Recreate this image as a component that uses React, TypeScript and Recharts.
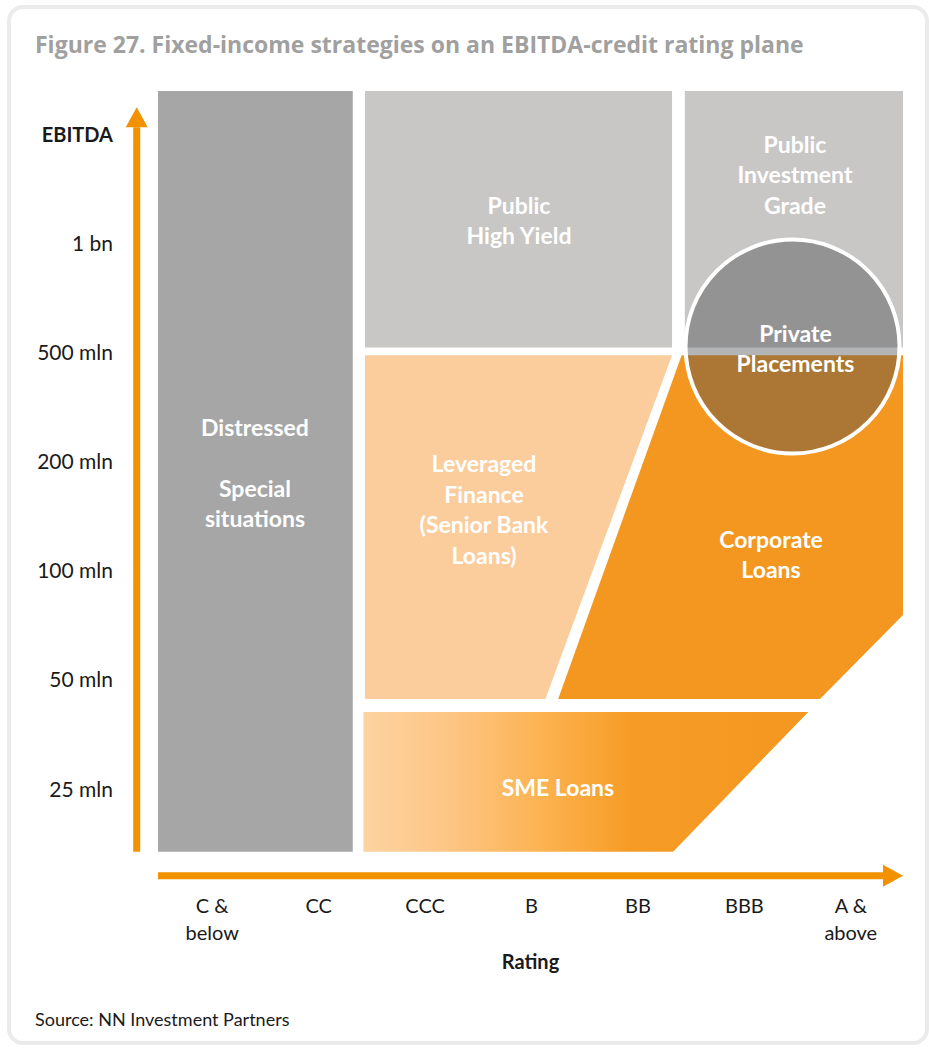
import React from 'react';
import {
  ComposedChart,
  XAxis,
  YAxis,
  Area,
  ReferenceArea,
  ReferenceDot,
  ReferenceLine,
  Label,
} from 'recharts';

// ---- axes (rating index on x, EBITDA level index on y) ----
const ratingTicks = [0, 1, 2, 3, 4, 5, 6];
const ratingLabels = [['C &', 'below'], ['CC'], ['CCC'], ['B'], ['BB'], ['BBB'], ['A &', 'above']];
const ebitdaTicks = [0, 1, 2, 3, 4, 5, 6];
const ebitdaLabels = ['25 mln', '50 mln', '100 mln', '200 mln', '500 mln', '1 bn', 'EBITDA'];

// ---- rectangular strategy zones: [x1, x2, y1, y2] in axis units ----
const distressedZone = [-0.5, 1.33, -0.57, 6.4];
const publicHighYieldZone = [1.445, 4.33, 4.05, 6.4];
const publicInvestmentGradeZone = [4.45, 6.5, 4.05, 6.4];

// ---- polygon zones as range areas: x with [low, high] EBITDA level ----
const leveragedFinance = [
  { x: 1.445, r: [0.83, 3.98] },
  { x: 3.14, r: [0.83, 3.98] },
  { x: 4.33, r: [3.98, 3.98] },
];
const corporateLoans = [
  { x: 3.26, r: [0.83, 0.83] },
  { x: 4.42, r: [0.83, 3.98] },
  { x: 5.72, r: [0.83, 3.98] },
  { x: 6.5, r: [1.6, 3.98] },
];
const smeLoans = [
  { x: 1.43, r: [-0.57, 0.71] },
  { x: 4.34, r: [-0.57, 0.71] },
  { x: 5.61, r: [0.71, 0.71] },
];

// ---- private placements circle centre ----
const privatePlacementsCentre = { x: 5.462, y: 4.059 };

// ---- zone labels ----
const zoneLabels = [
  { x: 0.411, y: 2.896, lines: ['Distressed', '', 'Special', 'situations'] },
  { x: 2.892, y: 5.209, lines: ['Public', 'High Yield'] },
  { x: 5.485, y: 5.63, lines: ['Public', 'Investment', 'Grade'] },
  { x: 5.49, y: 4.036, lines: ['Private', 'Placements'] },
  { x: 2.563, y: 2.561, lines: ['Leveraged', 'Finance', '(Senior Bank', 'Loans)'] },
  { x: 5.26, y: 2.149, lines: ['Corporate', 'Loans'] },
  { x: 3.258, y: 0.014, lines: ['SME Loans'] },
];

// ---- axis arrows (axis units) ----
const ratingArrow = [{ x: -0.5, y: -0.79 }, { x: 6.5, y: -0.79 }];
const ebitdaArrow = [{ x: -0.7, y: -0.57 }, { x: -0.7, y: 6.25 }];

const FONT = 'Lato, "Open Sans", sans-serif';
const ORANGE = '#f39200';

const RatingTick = (props: any) => {
  const { x, y, payload } = props;
  const idx = ratingTicks.indexOf(payload.value);
  const lines = ratingLabels[idx] || [];
  return (
    <g>
      {lines.map((t, i) => (
        <text key={i} x={x + 1} y={y + 58 + i * 27} textAnchor="middle" fontSize={20} fill="#1a1a1a" fontFamily={FONT}>
          {t}
        </text>
      ))}
    </g>
  );
};

const EbitdaTick = (props: any) => {
  const { x, y, payload } = props;
  const idx = ebitdaTicks.indexOf(payload.value);
  return (
    <text x={x} y={y} dy={7} textAnchor="end" fontSize={idx === 6 ? 20 : 21} fill="#1a1a1a" fontFamily={FONT} fontWeight={idx === 6 ? 700 : 400}>
      {ebitdaLabels[idx]}
    </text>
  );
};

const ArrowShape = (props: any) => {
  const { x1, y1, x2, y2 } = props;
  const dx = x2 - x1;
  const dy = y2 - y1;
  const len = Math.hypot(dx, dy) || 1;
  const ux = dx / len;
  const uy = dy / len;
  const head = 20;
  const half = 11;
  const bx = x2 - ux * head;
  const by = y2 - uy * head;
  const px = -uy;
  const py = ux;
  return (
    <g>
      <line x1={x1} y1={y1} x2={bx} y2={by} stroke={ORANGE} strokeWidth={7} />
      <polygon
        points={`${x2},${y2} ${bx + px * half},${by + py * half} ${bx - px * half},${by - py * half}`}
        fill={ORANGE}
      />
    </g>
  );
};

const ZoneLabel = ({ cx, cy, lines }: { cx: number; cy: number; lines: string[] }) => {
  const lh = 30.5;
  const start = cy - ((lines.length - 1) * lh) / 2;
  return (
    <text textAnchor="middle" fill="#ffffff" fontWeight={700} fontSize={23} fontFamily={FONT}>
      {lines.map((l, i) => (
        <tspan key={i} x={cx} y={start + i * lh} dy="0.35em">
          {l}
        </tspan>
      ))}
    </text>
  );
};

export default function App() {
  return (
    <div style={{ position: 'absolute', left: 0, top: 0, width: 929, height: 1048, fontFamily: FONT, background: '#fff' }}>
      <div
        style={{
          position: 'absolute',
          left: 7,
          top: 5,
          width: 922,
          height: 1040,
          border: '4px solid #ebebeb',
          borderRadius: 16,
          boxSizing: 'border-box',
        }}
      />
      <div
        style={{
          position: 'absolute',
          left: 35,
          top: 33,
          fontSize: 23,
          lineHeight: '23px',
          fontWeight: 700,
          fontFamily: '"Open Sans", Lato, sans-serif',
          color: '#a0a0a0',
          whiteSpace: 'nowrap',
        }}
      >
        Figure 27. Fixed-income strategies on an EBITDA-credit rating plane
      </div>
      <div
        style={{
          position: 'absolute',
          left: 35,
          top: 1010,
          fontSize: 18,
          lineHeight: '18px',
          color: '#1a1a1a',
          whiteSpace: 'nowrap',
        }}
      >
        Source: NN Investment Partners
      </div>
      <div style={{ position: 'absolute', left: 0, top: 0 }}>
        <ComposedChart width={929} height={1048} margin={{ top: 91, right: 26, bottom: 73, left: 0 }}>
          <defs>
            <linearGradient id="smeGrad" x1="0" y1="0" x2="1" y2="0">
              <stop offset="0" stopColor="#fdd3a0" />
              <stop offset="0.2" stopColor="#fdc584" />
              <stop offset="0.42" stopColor="#fcb14c" />
              <stop offset="0.6" stopColor="#f69c26" />
              <stop offset="1" stopColor="#f39720" />
            </linearGradient>
          </defs>
          <XAxis
            type="number"
            dataKey="x"
            domain={[-0.5, 6.5]}
            ticks={ratingTicks}
            allowDataOverflow
            axisLine={false}
            tickLine={false}
            tickSize={0}
            tickMargin={0}
            height={120}
            tick={<RatingTick />}
            interval={0}
          >
            <Label value="Rating" position="insideBottom" offset={6} fontSize={20} fontWeight={700} fill="#1a1a1a" fontFamily={FONT} />
          </XAxis>
          <YAxis
            type="number"
            domain={[-0.6, 6.4]}
            ticks={ebitdaTicks}
            allowDataOverflow
            axisLine={false}
            tickLine={false}
            tickSize={45}
            tickMargin={0}
            width={158}
            tick={<EbitdaTick />}
            interval={0}
          />
          <ReferenceArea
            x1={distressedZone[0]}
            x2={distressedZone[1]}
            y1={distressedZone[2]}
            y2={distressedZone[3]}
            fill="#a6a6a6"
            fillOpacity={1}
            stroke="none"
          />
          <ReferenceArea
            x1={publicHighYieldZone[0]}
            x2={publicHighYieldZone[1]}
            y1={publicHighYieldZone[2]}
            y2={publicHighYieldZone[3]}
            fill="#c8c7c5"
            fillOpacity={1}
            stroke="none"
          />
          <ReferenceArea
            x1={publicInvestmentGradeZone[0]}
            x2={publicInvestmentGradeZone[1]}
            y1={publicInvestmentGradeZone[2]}
            y2={publicInvestmentGradeZone[3]}
            fill="#c8c7c5"
            fillOpacity={1}
            stroke="none"
          />
          <Area
            data={leveragedFinance}
            dataKey="r"
            type="linear"
            stroke="none"
            fill="#fbcd9c"
            fillOpacity={1}
            dot={false}
            activeDot={false}
            isAnimationActive={false}
          />
          <Area
            data={corporateLoans}
            dataKey="r"
            type="linear"
            stroke="none"
            fill="#f39720"
            fillOpacity={1}
            dot={false}
            activeDot={false}
            isAnimationActive={false}
          />
          <Area
            data={smeLoans}
            dataKey="r"
            type="linear"
            stroke="none"
            fill="url(#smeGrad)"
            fillOpacity={1}
            dot={false}
            activeDot={false}
            isAnimationActive={false}
          />
          <ReferenceDot
            x={privatePlacementsCentre.x}
            y={privatePlacementsCentre.y}
            r={107}
            shape={(p: any) => (
              <circle cx={p.cx} cy={p.cy} r={107} fill="#4a4c52" fillOpacity={0.42} stroke="#ffffff" strokeWidth={4} />
            )}
          />
          {zoneLabels.map((z, i) => (
            <ReferenceDot
              key={i}
              x={z.x}
              y={z.y}
              r={1}
              shape={(p: any) => <ZoneLabel cx={p.cx} cy={p.cy} lines={z.lines} />}
            />
          ))}
          <ReferenceLine segment={ratingArrow} ifOverflow="visible" shape={(p: any) => <ArrowShape {...p} />} />
          <ReferenceLine segment={ebitdaArrow} ifOverflow="visible" shape={(p: any) => <ArrowShape {...p} />} />
        </ComposedChart>
      </div>
    </div>
  );
}
